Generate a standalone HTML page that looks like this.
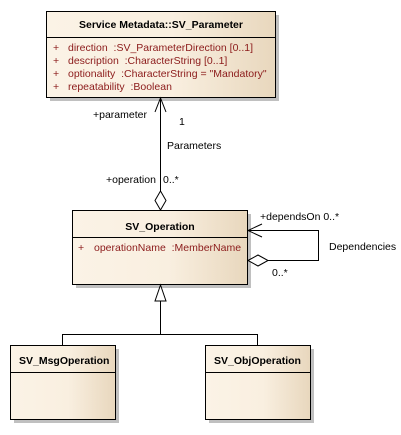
<!DOCTYPE html>
<html><head><meta charset="utf-8"><style>
body{margin:0;background:#fff;width:401px;height:430px;overflow:hidden;font-family:"Liberation Sans",Arial,sans-serif}
text{white-space:pre}
</style></head><body>
<svg width="401" height="430" xmlns="http://www.w3.org/2000/svg" font-family="Liberation Sans, Arial, sans-serif" font-size="10.5" xml:space="preserve">
<defs>
<linearGradient id="g" x1="0" x2="1" y1="0" y2="0">
<stop offset="0" stop-color="#fbf3e6"/><stop offset="0.55" stop-color="#f9efe0"/><stop offset="1" stop-color="#e8d7bd"/>
</linearGradient>
</defs>
<rect x="50" y="15" width="229" height="86" fill="#c0c0c0"/>
<rect x="76" y="214" width="175" height="74" fill="#c0c0c0"/>
<rect x="14" y="349" width="105" height="74" fill="#c0c0c0"/>
<rect x="209" y="349" width="105" height="74" fill="#c0c0c0"/>
<rect x="46.5" y="11.5" width="229" height="86" fill="url(#g)" stroke="#000"/>
<line x1="46.5" y1="37.5" x2="275.5" y2="37.5" stroke="#000"/>
<text x="161" y="28" text-anchor="middle" font-weight="bold">Service Metadata::SV_Parameter</text>
<g fill="#8b1a1a">
<text x="53" y="51">+</text><text x="68" y="51">direction  :SV_ParameterDirection [0..1]</text>
<text x="53" y="64">+</text><text x="68" y="64">description  :CharacterString [0..1]</text>
<text x="53" y="77">+</text><text x="68" y="77">optionality  :CharacterString = "Mandatory"</text>
<text x="53" y="90">+</text><text x="68" y="90">repeatability  :Boolean</text>
</g>
<rect x="72.5" y="210.5" width="175" height="74" fill="url(#g)" stroke="#000"/>
<line x1="72.5" y1="237.5" x2="247.5" y2="237.5" stroke="#000"/>
<text x="160" y="230" text-anchor="middle" font-weight="bold">SV_Operation</text>
<g fill="#8b1a1a"><text x="78" y="251">+</text><text x="94" y="251">operationName  :MemberName</text></g>
<rect x="10.5" y="345.5" width="105" height="74" fill="url(#g)" stroke="#000"/>
<line x1="10.5" y1="372.5" x2="115.5" y2="372.5" stroke="#000"/>
<text x="19" y="364" font-weight="bold">SV_MsgOperation</text>
<rect x="205.5" y="345.5" width="105" height="74" fill="url(#g)" stroke="#000"/>
<line x1="205.5" y1="372.5" x2="310.5" y2="372.5" stroke="#000"/>
<text x="214" y="364" font-weight="bold">SV_ObjOperation</text>
<g stroke="#000" fill="none">
<line x1="160.5" y1="98" x2="160.5" y2="191"/>
<polyline points="155,112 160.5,98 166,112"/>
<polygon points="160.5,191 166,200.5 160.5,210 155,200.5" fill="#fff"/>
<polyline points="248,230.5 318.5,230.5 318.5,260.5 268,260.5"/>
<polyline points="262,224 248,230.5 262,237"/>
<polygon points="248,260.5 258,255 268,260.5 258,266" fill="#fff"/>
<polyline points="160.5,301 160.5,334.5 62.5,334.5 62.5,345"/>
<polyline points="160.5,334.5 257.5,334.5 257.5,345"/>
<polygon points="160.5,285 166,301 155,301" fill="#fff"/>
</g>
<text x="93" y="118">+parameter</text>
<text x="179" y="125">1</text>
<text x="167" y="149">Parameters</text>
<text x="106" y="183">+operation</text>
<text x="163" y="183">0..*</text>
<text x="260" y="220">+dependsOn 0..*</text>
<text x="329" y="250">Dependencies</text>
<text x="272" y="276">0..*</text>
</svg>
</body></html>
